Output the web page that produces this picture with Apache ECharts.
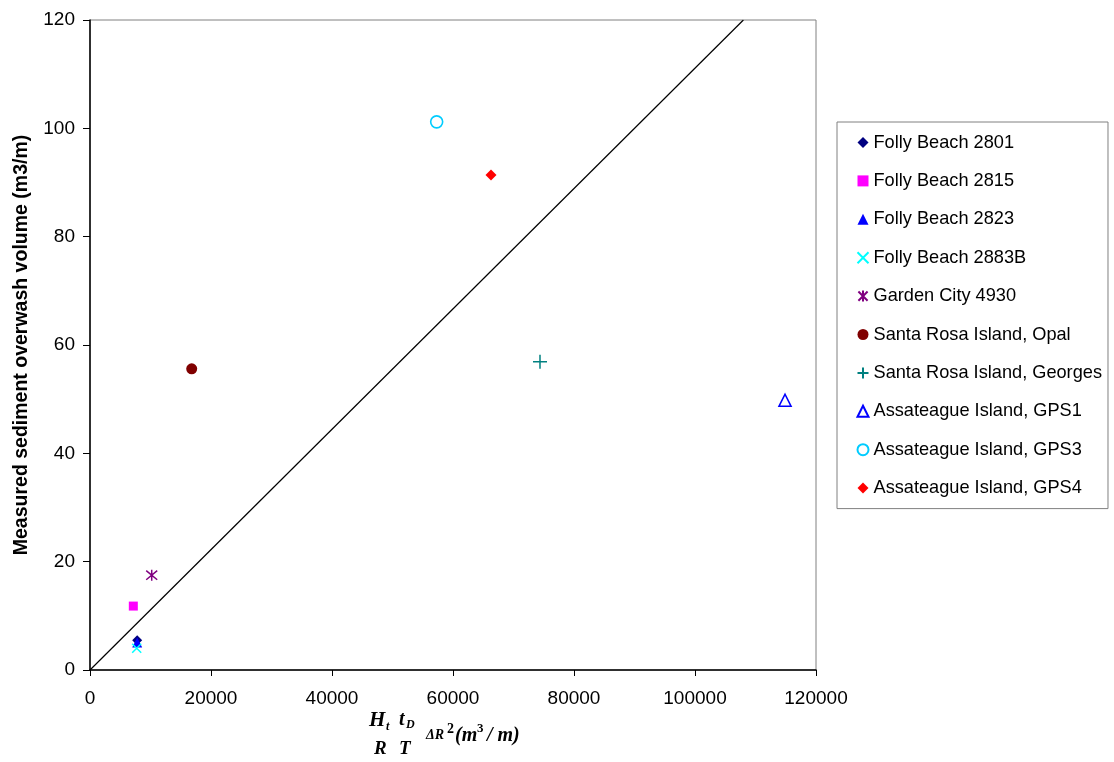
<!DOCTYPE html>
<html>
<head>
<meta charset="utf-8">
<script src="https://cdn.jsdelivr.net/npm/echarts@6/dist/echarts.min.js"></script>
<style>
html,body{margin:0;padding:0;background:#fff;}
#chart{width:1114px;height:762px;}
</style>
</head>
<body>
<div id="chart"></div>
<script>
const seriesNames = [
  'Folly Beach 2801',
  'Folly Beach 2815',
  'Folly Beach 2823',
  'Folly Beach 2883B',
  'Garden City 4930',
  'Santa Rosa Island, Opal',
  'Santa Rosa Island, Georges',
  'Assateague Island, GPS1',
  'Assateague Island, GPS3',
  'Assateague Island, GPS4'
];
const xValues = [7800, 7160, 7800, 7720, 10200, 16810, 74380, 114880, 57300, 66280];
const yValues = [5.5, 11.8, 5.1, 4.0, 17.5, 55.6, 56.9, 49.8, 101.2, 91.4];
const fitLineX = [0, 108000];
const fitLineY = [0, 120];
const xTickValues = [0, 20000, 40000, 60000, 80000, 100000, 120000];
const yTickValues = [0, 20, 40, 60, 80, 100, 120];

const styles = [
  {symbol: 'diamond', size: 10, color: '#000080', fill: true},
  {symbol: 'rect', size: 9, color: '#FF00FF', fill: true},
  {symbol: 'triangle', size: 10, color: '#0000FF', fill: true},
  {symbol: 'path://M0,0L10,10M10,0L0,10', size: 9, color: '#00FFFF', stroke: true},
  {symbol: 'path://M0,0L10,10M10,0L0,10M5,-1L5,11', size: 11, color: '#800080', stroke: true},
  {symbol: 'circle', size: 11, color: '#800000', fill: true},
  {symbol: 'path://M0,5L10,5M5,0L5,10', size: 14, color: '#008080', stroke: true},
  {symbol: 'triangle', size: 12, color: '#0000FF', open: true},
  {symbol: 'circle', size: 12, color: '#00CCFF', open: true},
  {symbol: 'diamond', size: 11, color: '#FF0000', fill: true}
];

const font = 'Liberation Sans, Arial, sans-serif';

const series = seriesNames.map((name, i) => {
  const s = styles[i];
  let itemStyle;
  if (s.fill) itemStyle = {color: s.color, opacity: 1};
  else if (s.open) itemStyle = {color: '#ffffff', borderColor: s.color, borderWidth: 1.6, opacity: 1};
  else itemStyle = {color: 'none', borderColor: s.color, borderWidth: 1.5, opacity: 1};
  return {
    name: name,
    type: 'scatter',
    symbol: s.symbol,
    symbolSize: s.size,
    itemStyle: itemStyle,
    data: [[xValues[i], yValues[i]]],
    z: 3
  };
});

series.unshift({
  name: 'fit',
  type: 'line',
  data: fitLineX.map((x, i) => [x, fitLineY[i]]),
  showSymbol: false,
  symbol: 'none',
  lineStyle: {color: '#000', width: 1.2},
  silent: true,
  z: 2
});

const serif = 'Liberation Serif, Times New Roman, serif';
function t(txt, x, y, size, italic) {
  return {type: 'text', x: x, y: y,
    style: {text: txt, font: (italic ? 'italic ' : '') + 'bold ' + size + 'px ' + serif, fill: '#000', verticalAlign: 'top'}};
}

const chart = echarts.init(document.getElementById('chart'), null, {renderer: 'canvas'});
chart.setOption({
  animation: false,
  backgroundColor: '#fff',
  grid: {left: 90, right: 298, top: 20, bottom: 92, show: true, borderColor: '#808080', borderWidth: 1},
  xAxis: {
    type: 'value', min: 0, max: 120000, interval: 20000,
    axisLine: {show: true, onZero: false, lineStyle: {color: '#000', width: 1.5}},
    axisTick: {show: true, length: 6, lineStyle: {color: '#000'}},
    axisLabel: {fontFamily: font, fontSize: 19, color: '#000', margin: 19, formatter: v => String(v)},
    splitLine: {show: false}
  },
  yAxis: {
    type: 'value', min: 0, max: 120, interval: 20,
    axisLine: {show: true, onZero: false, lineStyle: {color: '#000', width: 1.5}},
    axisTick: {show: true, length: 7, lineStyle: {color: '#000'}},
    axisLabel: {fontFamily: font, fontSize: 19, color: '#000', margin: 15},
    splitLine: {show: false},
    name: 'Measured sediment overwash volume (m3/m)',
    nameLocation: 'middle',
    nameGap: 58,
    nameTextStyle: {fontFamily: font, fontSize: 19.5, fontWeight: 'bold', color: '#000'}
  },
  legend: {
    data: seriesNames,
    orient: 'vertical',
    left: 837, top: 122,
    padding: [11, 6, 11, 18],
    itemWidth: 11, itemHeight: 11,
    itemGap: 19.4,
    borderColor: '#808080', borderWidth: 1,
    textStyle: {fontFamily: font, fontSize: 18.2, color: '#000', lineHeight: 19}
  },
  graphic: [
    t('H', 369, 710, 21, true),
    t('t', 386, 721, 12, true),
    t('t', 399, 710, 20, true),
    t('D', 406, 719, 12, true),
    t('R', 374, 740, 19, true),
    t('T', 399, 740, 19, true),
    t('ΔR', 426, 728, 14, true),
    t('2', 447, 722, 14, false),
    t('(m', 455, 726, 20, true),
    t('3', 477, 722, 13, false),
    t('/ m)', 487, 726, 20, true)
  ],
  series: series
});
</script>
</body>
</html>
